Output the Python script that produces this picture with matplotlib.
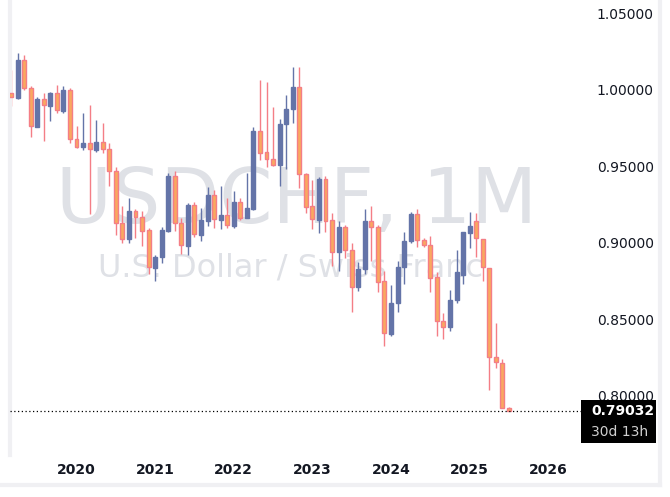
import matplotlib.pyplot as plt
from matplotlib.patches import Rectangle
import numpy as np

# Monthly USDCHF candles, Mar 2019 .. Jul 2025
opens = [0.9978, 0.9950, 1.0196, 1.0011, 0.9760, 0.9939, 0.9898, 0.9978, 0.9865, 1.0000,
         0.9678, 0.9630, 0.9651, 0.9610, 0.9658, 0.9614, 0.9468, 0.9129, 0.9028, 0.9209,
         0.9168, 0.9083, 0.8837, 0.8907, 0.9079, 0.9438, 0.9129, 0.8983, 0.9248, 0.9054,
         0.9146, 0.9314, 0.9153, 0.9183, 0.9113, 0.9266, 0.9166, 0.9225, 0.9732, 0.9593,
         0.9549, 0.9512, 0.9776, 0.9874, 1.0017, 0.9451, 0.9242, 0.9150, 0.9416, 0.9150,
         0.8939, 0.9102, 0.8954, 0.8710, 0.8828, 0.9144, 0.9102, 0.8752, 0.8405, 0.8606,
         0.8841, 0.9013, 0.9190, 0.9020, 0.8987, 0.8776, 0.8490, 0.8453, 0.8627, 0.8791,
         0.9063, 0.9144, 0.9024, 0.8839, 0.8253, 0.8214, 0.7919]
highs = [1.0131, 1.0244, 1.0229, 1.0026, 0.9956, 0.9982, 0.9989, 1.0033, 1.0026, 1.0015,
         0.9765, 0.9852, 0.9902, 0.9804, 0.9787, 0.9656, 0.9499, 0.9242, 0.9294, 0.9220,
         0.9209, 0.9096, 0.8922, 0.9103, 0.9460, 0.9471, 0.9166, 0.9259, 0.9265, 0.9227,
         0.9368, 0.9346, 0.9373, 0.9296, 0.9340, 0.9292, 0.9460, 0.9756, 1.0065, 1.0054,
         0.9891, 0.9811, 0.9967, 1.0153, 1.0153, 0.9455, 0.9412, 0.9429, 0.9438, 0.9194,
         0.9146, 0.9118, 0.8998, 0.8876, 0.9222, 0.9242, 0.9118, 0.8817, 0.8725, 0.8882,
         0.9074, 0.9200, 0.9222, 0.9035, 0.9046, 0.8813, 0.8545, 0.8693, 0.8954, 0.9074,
         0.9200, 0.9194, 0.9024, 0.8839, 0.8475, 0.8242, 0.7926]
lows = [0.9898, 0.9939, 1.0000, 0.9695, 0.9757, 0.9664, 0.9800, 0.9848, 0.9852, 0.9651,
        0.9619, 0.9608, 0.9187, 0.9597, 0.9586, 0.9375, 0.9052, 0.8998, 0.8998, 0.9035,
        0.8983, 0.8795, 0.8754, 0.8872, 0.9070, 0.9079, 0.8930, 0.8922, 0.9041, 0.9013,
        0.9111, 0.9100, 0.9089, 0.9096, 0.9096, 0.9150, 0.9161, 0.9216, 0.9542, 0.9499,
        0.9503, 0.9375, 0.9482, 0.9782, 0.9357, 0.9198, 0.9089, 0.9063, 0.9074, 0.8850,
        0.8819, 0.8900, 0.8551, 0.8688, 0.8795, 0.8885, 0.8682, 0.8329, 0.8394, 0.8551,
        0.8730, 0.8998, 0.8976, 0.8976, 0.8682, 0.8394, 0.8370, 0.8427, 0.8610, 0.8732,
        0.8965, 0.8911, 0.8754, 0.8039, 0.8181, 0.7919, 0.7903]
closes = [0.9952, 1.0196, 1.0011, 0.9762, 0.9941, 0.9900, 0.9982, 0.9867, 1.0000, 0.9678,
          0.9630, 0.9654, 0.9612, 0.9660, 0.9612, 0.9468, 0.9129, 0.9028, 0.9209, 0.9168,
          0.9081, 0.8841, 0.8909, 0.9085, 0.9438, 0.9129, 0.8985, 0.9248, 0.9057, 0.9150,
          0.9314, 0.9155, 0.9183, 0.9116, 0.9266, 0.9166, 0.9227, 0.9732, 0.9590, 0.9547,
          0.9512, 0.9778, 0.9874, 1.0017, 0.9449, 0.9237, 0.9155, 0.9416, 0.9146, 0.8939,
          0.9102, 0.8954, 0.8710, 0.8830, 0.9144, 0.9102, 0.8747, 0.8410, 0.8606, 0.8845,
          0.9013, 0.9190, 0.9020, 0.8987, 0.8773, 0.8492, 0.8449, 0.8627, 0.8810, 0.9072,
          0.9111, 0.9030, 0.8841, 0.8253, 0.8220, 0.7919, 0.7903]
last_price = 0.79032
countdown = '30d 13h'
year_labels = ['2020', '2021', '2022', '2023', '2024', '2025', '2026']
year_pos = [10, 22, 34, 46, 58, 70, 82]  # month index (0 = Mar 2019)
price_ticks = [0.80, 0.85, 0.90, 0.95, 1.00, 1.05]

UP_COL = '#6474a8'
DOWN_FILL = '#f9a85f'
DOWN_EDGE = '#f47e86'
W, H = 670, 497

fig = plt.figure(figsize=(6.7, 4.97), dpi=100)
ax = fig.add_axes([10 / W, 1 - 455 / H, 573 / W, 455 / H])
ax.set_xlim(-0.15, 87.3)
ax.set_ylim(0.7614, 1.0588)

# watermark
ax.text(0.50, 0.557, 'USDCHF, 1M', transform=ax.transAxes, ha='center', va='center',
        fontsize=55, color='#dfe1e6', zorder=0)
ax.text(0.49, 0.41, 'U.S. Dollar / Swiss Franc', transform=ax.transAxes, ha='center',
        va='center', fontsize=23, color='#dfe1e6', zorder=0)

w = 0.6
for i, (o, h, l, c) in enumerate(zip(opens, highs, lows, closes)):
    up = c >= o
    edge = UP_COL if up else DOWN_EDGE
    fill = UP_COL if up else DOWN_FILL
    ax.vlines(i, l, h, color=edge, linewidth=1, zorder=2)
    ax.add_patch(Rectangle((i - w / 2, min(o, c)), w, max(abs(c - o), 0.0004),
                           facecolor=fill, edgecolor=edge, linewidth=1, zorder=3))

ax.axhline(last_price, color='black', linestyle=(0, (1, 2)), linewidth=0.9, zorder=4)

for s in ['top', 'right', 'bottom']:
    ax.spines[s].set_visible(False)
ax.spines['left'].set_color('#f0f0f3')
ax.spines['left'].set_linewidth(3)

ax.set_xticks(year_pos)
ax.set_xticklabels(year_labels, fontsize=10, fontweight='bold', color='#131722')
ax.tick_params(axis='x', length=0, pad=6)
ax.yaxis.tick_right()
ax.set_yticks(price_ticks)
ax.set_yticklabels([f'{t:.5f}' for t in price_ticks], fontsize=10, color='#131722')
ax.tick_params(axis='y', length=0, pad=10)

# last price label box
fig.add_artist(Rectangle((581 / W, 1 - 443 / H), 75 / W, 43 / H, transform=fig.transFigure,
                         facecolor='black', edgecolor='none', zorder=5))
fig.text(591 / W, 1 - 411 / H, f'{last_price:.5f}', ha='left', va='center', fontsize=10,
         fontweight='bold', color='white', zorder=6)
fig.text(591 / W, 1 - 432 / H, countdown, ha='left', va='center', fontsize=10,
         color='#d0d0d0', zorder=6)

# outer light border
fig.add_artist(plt.Line2D([0, 660 / W], [1 - 485 / H] * 2, color='#f0f0f3', lw=3))
fig.add_artist(plt.Line2D([660 / W] * 2, [1 - 485 / H, 1], color='#f0f0f3', lw=3))

fig.savefig('out.png', dpi=100)
